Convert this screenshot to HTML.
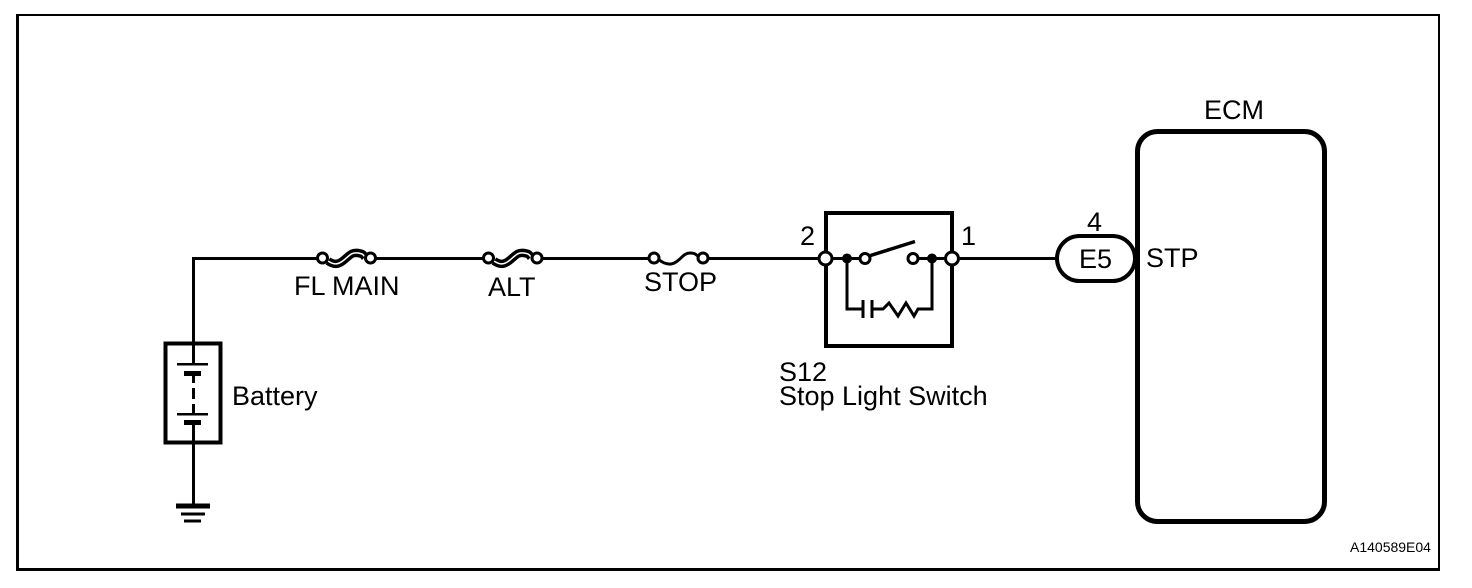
<!DOCTYPE html>
<html>
<head>
<meta charset="utf-8">
<style>
html,body{margin:0;padding:0;background:#fff;width:1472px;height:588px;overflow:hidden}
svg{display:block}
text{font-family:"Liberation Sans",sans-serif;font-size:27px;fill:#000}
</style>
</head>
<body>
<svg width="1472" height="588" viewBox="0 0 1472 588" xmlns="http://www.w3.org/2000/svg">
<rect width="1472" height="588" fill="#fff"/>
<!-- frame -->
<rect x="16" y="14" width="3" height="557" fill="#000"/>
<rect x="16" y="14" width="1424" height="2" fill="#000"/>
<rect x="1438" y="14" width="2" height="557" fill="#000"/>
<rect x="16" y="568" width="1424" height="3" fill="#000"/>

<g fill="none" stroke="#000" stroke-width="3" shape-rendering="crispEdges">
  <!-- main wire segments -->
  <path d="M193.5 343V258.5H318"/>
  <path d="M375 258.5H484"/>
  <path d="M542 258.5H649"/>
  <path d="M708 258.5H826"/>
  <path d="M952 258.5H1057"/>
  <!-- battery -->
  <rect x="165.5" y="343.5" width="55" height="99" stroke-width="4"/>
  <path d="M193.5 343V364M193.5 373V383M193.5 388V399M193.5 404V414M193.5 422V505"/>
  <path d="M177 364H208M177 414H208" stroke-width="2.5"/>
  <path d="M184 373.5H201M184 422.5H201" stroke-width="5"/>
  <!-- ground -->
  <path d="M176 506H210" stroke-width="5"/>
  <path d="M181 514H205M184 521H201" stroke-width="3"/>
</g>

<g fill="none" stroke="#000" stroke-width="3">
  <!-- FL MAIN fuse -->
  <path d="M328 261C334 265 338 265 344 260S352 252 358 253S363 255 365 257" stroke-width="8.5"/>
  <path d="M328 261C334 265 338 265 344 260S352 252 358 253S363 255 365 257" stroke="#fff" stroke-width="1.5"/>
  <circle cx="322.5" cy="258" r="5" fill="#fff"/>
  <circle cx="370.5" cy="258" r="5" fill="#fff"/>

  <!-- ALT fuse -->
  <path d="M494 261C500 265 504 265 510 260S518 252 524 253S529 255 531 257" stroke-width="8.5"/>
  <path d="M494 261C500 265 504 265 510 260S518 252 524 253S529 255 531 257" stroke="#fff" stroke-width="1.5"/>
  <circle cx="488.5" cy="258" r="5" fill="#fff"/>
  <circle cx="537" cy="258" r="5" fill="#fff"/>

  <!-- STOP fuse -->
  <path d="M658 259C664 264 670 266 676 262S684 253 690 253S696 255 699 257"/>
  <circle cx="654" cy="258" r="5" fill="#fff"/>
  <circle cx="703" cy="258" r="5" fill="#fff"/>

  <!-- switch -->
  <rect x="826" y="213" width="126" height="133" stroke-width="4" shape-rendering="crispEdges"/>
  <path d="M826 258.5H865M913 258.5H952" shape-rendering="crispEdges"/>
  <path d="M869 256L915 241.5" stroke-width="3.5"/>
  <path d="M847 258V309H863M872 309H883L889 303L898 316L906 303L914 316L918 309H932V258"/>
  <path d="M863 300V318M872 300V318" stroke-width="3"/>
  <circle cx="825.5" cy="258.5" r="6.5" fill="#fff"/>
  <circle cx="952" cy="258.5" r="6.5" fill="#fff"/>
  <circle cx="865" cy="258.5" r="5" fill="#fff"/>
  <circle cx="913" cy="258.5" r="5" fill="#fff"/>
  <circle cx="847" cy="258.5" r="5" fill="#000" stroke="none"/>
  <circle cx="932" cy="258.5" r="5" fill="#000" stroke="none"/>

  <!-- ECM -->
  <rect x="1137.5" y="131.5" width="187" height="390" rx="20" ry="20" stroke-width="5"/>
  <!-- E5 pill -->
  <rect x="1057" y="236" width="78" height="45" rx="22.5" ry="22.5" fill="#fff" stroke-width="4"/>
  <path d="M1137.5 220V300" stroke-width="5"/>
</g>

<text x="294" y="295">FL MAIN</text>
<text x="488" y="296">ALT</text>
<text x="644" y="291">STOP</text>
<text x="232" y="405">Battery</text>
<text x="779" y="381">S12</text>
<text x="779" y="405">Stop Light Switch</text>
<text x="800" y="245">2</text>
<text x="961" y="245">1</text>
<text x="1087" y="231">4</text>
<text x="1079" y="268">E5</text>
<text x="1146" y="267">STP</text>
<text x="1204" y="119">ECM</text>
<text x="1350" y="552" style="font-size:14px">A140589E04</text>
</svg>
</body>
</html>
